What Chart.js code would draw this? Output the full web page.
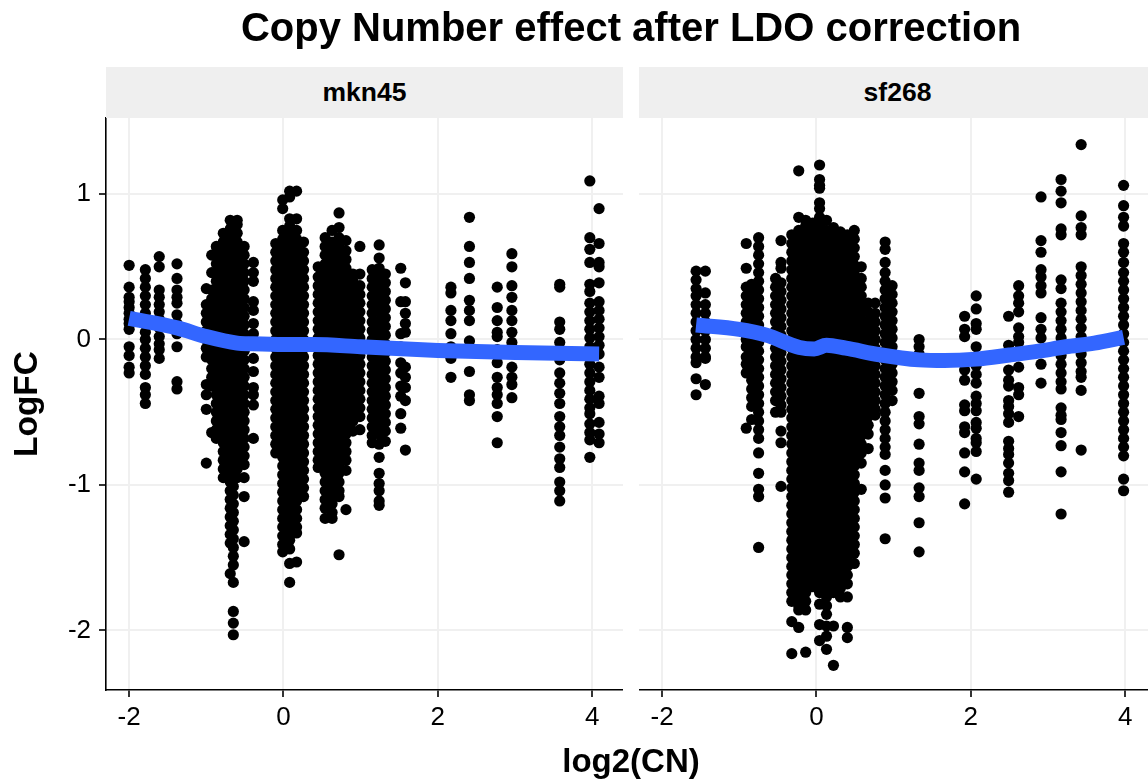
<!DOCTYPE html>
<html>
<head>
<meta charset="utf-8">
<script src="https://cdn.jsdelivr.net/npm/chart.js@4"></script>
<style>
  html, body { margin: 0; padding: 0; background: #fff; width: 1148px; height: 783px; overflow: hidden; }
  body { position: relative; font-family: "Liberation Sans", Arial, sans-serif; color: #000; }
  canvas { position: absolute; top: 0; }
  #plot1 { left: 0; }
  #plot2 { left: 639px; }
  .label { position: absolute; text-align: center; font-weight: bold; white-space: nowrap; }
  #title { left: 0; top: 3px; width: 1262px; font-size: 40px; line-height: 48px; }
  #xlabel { left: 0; top: 741px; width: 1262px; font-size: 33px; line-height: 40px; }
  .strip { top: 67px; height: 51px; line-height: 51px; font-size: 26.5px; background: #efefef; width: 517px; }
  #strip1 { left: 106px; }
  #strip2 { left: 639px; }
</style>
</head>
<body>
<canvas id="plot1" width="623" height="783"></canvas>
<canvas id="plot2" width="517" height="783"></canvas>
<div class="label strip" id="strip1">mkn45</div>
<div class="label strip" id="strip2">sf268</div>
<div class="label" id="title">Copy Number effect after LDO correction</div>
<div class="label" id="xlabel">log2(CN)</div>
<script>
const xTicks = [-2, 0, 2, 4];
const yTicks = [-2, -1, 0, 1];

// mkn45: x of each copy number column, then LogFC values of that column
const mknColX = [-2, -1.79, -1.61, -1.38, -1, -.93, -.87, -.78, -.69, -.65, -.6, -.51, -.39, -.1, -.01, .08, .17, .26, .45, .54, .63, .72, .81, .9, .99, 1.15, 1.24, 1.32, 1.52, 1.58, 2.17, 2.41, 2.77, 2.96, 3.58, 3.97, 4.09];
const mknColY = [
  [.51,.36,.29,.26,.22,.18,.14,.11,.07,-.05,-.11,-.19,-.23],
  [.48,.42,.36,.3,.24,.18,.12,.05,0,-.06,-.12,-.18,-.24,-.33,-.38,-.44],
  [.57,.5,.34,.29,.24,.19,.14,.08,.02,-.03,-.07,-.13],
  [.52,.42,.34,.29,.25,.17,.11,.04,-.05,-.29,-.34],
  [.35,.24,.18,.12,.06,0,-.06,-.12,-.31,-.38,-.48,-.85],
  [.58,.46,.34,.28,.22,.16,.1,.04,-.02,-.08,-.14,-.2,-.26,-.32,-.64],
  [.64,.58,.52,.46,.4,.34,.28,.22,.16,.1,.04,-.02,-.08,-.14,-.2,-.26,-.32,-.38,-.44,-.5,-.56,-.62,-.68],
  [.73,.67,.61,.55,.49,.43,.37,.31,.25,.19,.13,.07,.01,-.05,-.11,-.17,-.23,-.29,-.35,-.41,-.47,-.53,-.59,-.65,-.71,-.77,-.83,-.89,-.95],
  [.82,.76,.7,.64,.58,.52,.46,.4,.34,.28,.22,.16,.1,.04,-.02,-.08,-.14,-.2,-.26,-.32,-.38,-.44,-.5,-.56,-.62,-.68,-.74,-.8,-.86,-.92,-.98,-1.04,-1.1,-1.16,-1.22,-1.28,-1.34,-1.4,-1.61],
  [-.95,-1.01,-1.07,-1.13,-1.19,-1.25,-1.31,-1.37,-1.43,-1.49,-1.55,-1.67,-1.87,-1.95,-2.03],
  [.82,.79,.73,.67,.61,.55,.49,.43,.37,.31,.25,.19,.13,.07,.01,-.05,-.11,-.17,-.23,-.29,-.35,-.41,-.47,-.53,-.59,-.65,-.71,-.77,-.83,-.89,-.95],
  [.64,.58,.52,.46,.4,.34,.28,.22,.16,.1,.04,-.02,-.08,-.14,-.2,-.26,-.32,-.38,-.44,-.5,-.56,-.62,-.68,-.74,-.8,-.86,-.95,-1.08,-1.39],
  [.53,.46,.4,.26,.2,.11,.04,-.13,-.22,-.33,-.38,-.45,-.68],
  [.66,.6,.54,.48,.42,.36,.3,.24,.18,.12,.06,0,-.06,-.12,-.18,-.24,-.3,-.36,-.42,-.48,-.54,-.6,-.66,-.72,-.78],
  [.96,.9,.75,.69,.63,.57,.51,.45,.39,.33,.27,.21,.15,.09,.03,-.03,-.09,-.15,-.21,-.27,-.33,-.39,-.45,-.51,-.57,-.63,-.69,-.75,-.81,-.87,-.93,-.99,-1.05,-1.11,-1.17,-1.23,-1.29,-1.35,-1.41,-1.46],
  [1.02,.98,.83,.78,.72,.66,.6,.54,.48,.42,.36,.3,.24,.18,.12,.06,0,-.06,-.12,-.18,-.24,-.3,-.36,-.42,-.48,-.54,-.6,-.66,-.72,-.78,-.84,-.9,-.96,-1.02,-1.08,-1.14,-1.2,-1.26,-1.32,-1.38,-1.44,-1.54,-1.67],
  [1.02,.83,.75,.69,.63,.57,.51,.45,.39,.33,.27,.21,.15,.09,.03,-.03,-.09,-.15,-.21,-.27,-.33,-.39,-.45,-.51,-.57,-.63,-.69,-.75,-.81,-.87,-.93,-.99,-1.05,-1.11,-1.17,-1.23,-1.29,-1.33,-1.53],
  [.67,.6,.54,.48,.42,.36,.3,.24,.18,.12,.06,0,-.06,-.12,-.18,-.24,-.3,-.36,-.42,-.48,-.54,-.6,-.66,-.72,-.78,-.84,-.9,-.96,-1.02,-1.08],
  [.5,.43,.37,.31,.25,.19,.13,.07,.01,-.05,-.11,-.17,-.23,-.29,-.35,-.41,-.47,-.53,-.59,-.65,-.71,-.77,-.83,-.88],
  [.7,.64,.58,.52,.46,.4,.34,.28,.22,.16,.1,.04,-.02,-.08,-.14,-.2,-.26,-.32,-.38,-.44,-.5,-.56,-.62,-.68,-.74,-.8,-.86,-.92,-.98,-1.04,-1.1,-1.16,-1.23],
  [.75,.67,.61,.55,.49,.43,.37,.31,.25,.19,.13,.07,.01,-.05,-.11,-.17,-.23,-.29,-.35,-.41,-.47,-.53,-.59,-.65,-.71,-.77,-.83,-.89,-.95,-1.01,-1.07,-1.13,-1.19,-1.23],
  [.87,.77,.7,.64,.58,.52,.46,.4,.34,.28,.22,.16,.1,.04,-.02,-.08,-.14,-.2,-.26,-.32,-.38,-.44,-.5,-.56,-.62,-.68,-.74,-.8,-.86,-.92,-.98,-1.04,-1.08,-1.48],
  [.68,.61,.55,.49,.43,.37,.31,.25,.19,.13,.07,.01,-.05,-.11,-.17,-.23,-.29,-.35,-.41,-.47,-.53,-.59,-.65,-.71,-.77,-.83,-.9,-1.17],
  [.45,.4,.34,.28,.22,.16,.1,.04,-.02,-.08,-.14,-.2,-.26,-.32,-.38,-.44,-.5,-.56,-.63],
  [.64,.45,.37,.31,.25,.19,.13,.07,.01,-.05,-.11,-.17,-.23,-.29,-.35,-.41,-.47,-.53,-.62],
  [.48,.42,.36,.3,.24,.18,.12,.06,0,-.06,-.12,-.18,-.24,-.3,-.36,-.42,-.48,-.54,-.6,-.66,-.71],
  [.65,.56,.49,.43,.37,.31,.25,.19,.13,.07,.01,-.05,-.11,-.17,-.23,-.29,-.35,-.41,-.47,-.53,-.59,-.65,-.72,-.81,-.92,-.99,-1.04,-1.11,-1.14],
  [.45,.39,.33,.27,.21,.15,.09,.03,-.03,-.09,-.15,-.21,-.27,-.33,-.39,-.45,-.51,-.57,-.63,-.7],
  [.49,.26,.04,-.05,-.16,-.23,-.32,-.39,-.51,-.61],
  [.39,.26,.18,.11,.05,-.19,-.26,-.33,-.42,-.76],
  [.36,.32,.2,.13,.04,-.05,-.13,-.26],
  [.84,.64,.53,.42,.27,.2,.13,-.01,-.22,-.38,-.42],
  [.36,.22,.13,.05,.02,-.07,-.16,-.26,-.33,-.38,-.44,-.53,-.71],
  [.59,.5,.37,.29,.2,.13,.05,-.02,-.19,-.26,-.31,-.4],
  [.38,.36,.12,.07,-.02,-.14,-.23,-.3,-.37,-.44,-.53,-.6,-.66,-.74,-.82,-.88,-.98,-1.04,-1.11],
  [1.09,.7,.62,.53,.38,.33,.25,.19,.13,.07,.01,-.05,-.11,-.17,-.23,-.29,-.35,-.41,-.47,-.51,-.58,-.64,-.69,-.81],
  [.9,.66,.53,.5,.39,.26,.2,.14,.08,.02,-.04,-.1,-.19,-.26,-.39,-.44,-.57,-.65,-.71]
];
const mknLineX = [-2, -1.38, -1, -.6, -.4, 0, .4, 1, 2, 3, 4.09];
const mknLineY = [.145, .08, .02, -.025, -.03, -.035, -.035, -.05, -.075, -.09, -.1];

// sf268
const sfColX = [-1.56, -1.44, -.91, -.84, -.75, -.53, -.46, -.32, -.23, -.14, -.05, .04, .13, .22, .31, .4, .49, .58, .67, .76, .89, .98, 1.33, 1.92, 2.07, 2.49, 2.62, 2.91, 3.17, 3.43, 3.98];
const sfColY = [
  [.47,.41,.35,.3,.24,.18,.12,.06,0,-.06,-.12,-.16,-.27,-.38],
  [.47,.32,.24,.18,.12,.06,0,-.06,-.12,-.13,-.31],
  [.66,.49,.36,.3,.24,.18,.12,.06,0,-.05,-.12,-.17,-.23,-.61],
  [.38,.32,.26,.2,.14,.08,.02,-.04,-.1,-.16,-.22,-.28,-.34,-.4,-.46,-.55],
  [.7,.64,.58,.52,.46,.4,.34,.28,.22,.16,.1,.04,-.02,-.08,-.14,-.2,-.26,-.32,-.38,-.44,-.5,-.56,-.62,-.68,-.78,-.92,-1.03,-1.08,-1.43],
  [.42,.36,.3,.24,.18,.12,.06,0,-.06,-.12,-.18,-.24,-.3,-.36,-.42,-.5],
  [.68,.53,.49,.39,.33,.27,.21,.15,.09,.03,-.03,-.09,-.15,-.21,-.27,-.33,-.39,-.45,-.5,-.63,-.71,-1.01],
  [.72,.66,.6,.54,.48,.42,.36,.3,.24,.18,.12,.06,0,-.06,-.12,-.18,-.24,-.3,-.36,-.42,-.48,-.54,-.6,-.66,-.72,-.78,-.84,-.9,-.96,-1.02,-1.08,-1.14,-1.2,-1.26,-1.32,-1.38,-1.44,-1.5,-1.56,-1.62,-1.68,-1.74,-1.8,-1.94,-2.16],
  [1.16,.84,.75,.69,.63,.57,.51,.45,.39,.33,.27,.21,.15,.09,.03,-.03,-.09,-.15,-.21,-.27,-.33,-.39,-.45,-.51,-.57,-.63,-.69,-.75,-.81,-.87,-.93,-.99,-1.05,-1.11,-1.17,-1.23,-1.29,-1.35,-1.41,-1.47,-1.53,-1.59,-1.65,-1.71,-1.77,-1.83,-1.86,-1.98],
  [.82,.78,.72,.66,.6,.54,.48,.42,.36,.3,.24,.18,.12,.06,0,-.06,-.12,-.18,-.24,-.3,-.36,-.42,-.48,-.54,-.6,-.66,-.72,-.78,-.84,-.9,-.96,-1.02,-1.08,-1.14,-1.2,-1.26,-1.32,-1.38,-1.44,-1.5,-1.56,-1.62,-1.68,-1.74,-1.8,-1.86,-2.15],
  [.8,.75,.69,.63,.57,.51,.45,.39,.33,.27,.21,.15,.09,.03,-.03,-.09,-.15,-.21,-.27,-.33,-.39,-.45,-.51,-.57,-.63,-.69,-.75,-.81,-.87,-.93,-.99,-1.05,-1.11,-1.17,-1.23,-1.29,-1.35,-1.41,-1.47,-1.53,-1.59,-1.65,-1.7],
  [1.2,1.1,1.06,1.04,.94,.9,.84,.78,.72,.66,.6,.54,.48,.42,.36,.3,.24,.18,.12,.06,0,-.06,-.12,-.18,-.24,-.3,-.36,-.42,-.48,-.54,-.6,-.66,-.72,-.78,-.84,-.9,-.96,-1.02,-1.08,-1.14,-1.2,-1.26,-1.32,-1.38,-1.44,-1.5,-1.56,-1.62,-1.68,-1.74,-1.82,-1.96,-2.07],
  [.82,.75,.69,.63,.57,.51,.45,.39,.33,.27,.21,.15,.09,.03,-.03,-.09,-.15,-.21,-.27,-.33,-.39,-.45,-.51,-.57,-.63,-.69,-.75,-.81,-.87,-.93,-.99,-1.05,-1.11,-1.17,-1.23,-1.29,-1.35,-1.41,-1.47,-1.53,-1.59,-1.65,-1.71,-1.77,-1.83,-1.89,-1.97,-2.04,-2.13],
  [.77,.72,.66,.6,.54,.48,.42,.36,.3,.24,.18,.12,.06,0,-.06,-.12,-.18,-.24,-.3,-.36,-.42,-.48,-.54,-.6,-.66,-.72,-.78,-.84,-.9,-.96,-1.02,-1.08,-1.14,-1.2,-1.26,-1.32,-1.38,-1.44,-1.5,-1.56,-1.62,-1.68,-1.74,-1.97,-2.24],
  [.74,.69,.63,.57,.51,.45,.39,.33,.27,.21,.15,.09,.03,-.03,-.09,-.15,-.21,-.27,-.33,-.39,-.45,-.51,-.57,-.63,-.69,-.75,-.81,-.87,-.93,-.99,-1.05,-1.11,-1.17,-1.23,-1.29,-1.35,-1.41,-1.47,-1.53,-1.59,-1.65,-1.71,-1.77],
  [.72,.66,.6,.54,.48,.42,.36,.3,.24,.18,.12,.06,0,-.06,-.12,-.18,-.24,-.3,-.36,-.42,-.48,-.54,-.6,-.66,-.72,-.78,-.84,-.9,-.96,-1.02,-1.08,-1.14,-1.2,-1.26,-1.32,-1.38,-1.44,-1.5,-1.56,-1.62,-1.68,-1.77,-1.98,-2.05],
  [.75,.69,.63,.57,.51,.45,.39,.33,.27,.21,.15,.09,.03,-.03,-.09,-.15,-.21,-.27,-.33,-.39,-.45,-.51,-.57,-.63,-.69,-.75,-.81,-.87,-.93,-.99,-1.05,-1.11,-1.17,-1.23,-1.29,-1.35,-1.41,-1.47,-1.54],
  [.5,.42,.36,.3,.24,.18,.12,.06,0,-.06,-.12,-.18,-.24,-.3,-.36,-.42,-.48,-.54,-.6,-.66,-.72,-.78,-.85,-1.03],
  [.25,.19,.13,.07,.01,-.05,-.11,-.17,-.23,-.29,-.35,-.41,-.47,-.53,-.59,-.65,-.75],
  [.25,.18,.12,.06,0,-.06,-.12,-.18,-.24,-.3,-.36,-.42,-.48,-.52],
  [.67,.62,.53,.46,.4,.34,.28,.22,.16,.1,.04,-.02,-.08,-.14,-.2,-.26,-.32,-.38,-.44,-.5,-.56,-.62,-.68,-.74,-.79,-.9,-1,-1.09,-1.37],
  [.37,.31,.25,.19,.13,.07,.01,-.05,-.11,-.17,-.23,-.29,-.35,-.42],
  [0,-.05,-.1,-.15,-.37,-.53,-.58,-.72,-.85,-.9,-1.02,-1.08,-1.26,-1.46],
  [.16,.07,.02,-.21,-.28,-.45,-.49,-.6,-.64,-.78,-.91,-1.13],
  [.3,.21,.11,.07,-.05,-.12,-.18,-.24,-.3,-.39,-.44,-.49,-.57,-.61,-.68,-.71,-.77,-.96],
  [.16,-.04,-.21,-.28,-.32,-.42,-.46,-.51,-.57,-.7,-.75,-.79,-.85,-.92,-.97,-1.05],
  [.37,.3,.25,.19,.08,.02,-.02,-.19,-.33,-.38,-.53],
  [.98,.68,.6,.48,.43,.37,.32,.15,.07,.01,-.17,-.3],
  [1.1,1.02,.94,.76,.72,.41,.35,.25,.19,.13,.07,.01,-.05,-.11,-.17,-.23,-.29,-.34,-.47,-.52,-.55,-.64,-.73,-.91,-1.2],
  [1.34,.85,.77,.72,.5,.44,.38,.32,.26,.2,.14,.08,.02,-.04,-.1,-.16,-.22,-.26,-.35,-.76],
  [1.06,.92,.84,.78,.66,.6,.53,.46,.4,.34,.28,.22,.16,.1,.04,-.02,-.08,-.14,-.2,-.26,-.32,-.38,-.44,-.5,-.56,-.62,-.68,-.74,-.8,-.96,-1.04]
];
const sfLineX = [-1.56, -1, -.65, -.22, -.03, .13, .38, .82, 1.33, 1.66, 2.07, 2.5, 2.88, 3.23, 3.6, 3.98];
const sfLineY = [.1, .07, .03, -.055, -.065, -.04, -.06, -.105, -.14, -.145, -.135, -.107, -.08, -.05, -.025, .015];

const BLUE = '#3366ff';
const GRID = '#f0f0f0';

function columnPoints(colX, colY) {
  const pts = [];
  colX.forEach((x, i) => colY[i].forEach(y => pts.push({ x: x, y: y })));
  return pts;
}

function linePoints(xs, ys) {
  return xs.map((x, i) => ({ x: x, y: ys[i] }));
}

function makePanel(id, colX, colY, lineX, lineY, isLeft) {
  return new Chart(document.getElementById(id), {
    type: 'scatter',
    data: {
      datasets: [
        {
          data: linePoints(lineX, lineY),
          showLine: true,
          borderColor: BLUE,
          borderWidth: 15,
          borderCapStyle: 'butt',
          borderJoinStyle: 'round',
          cubicInterpolationMode: 'monotone',
          pointRadius: 0,
          order: 0
        },
        {
          data: columnPoints(colX, colY),
          backgroundColor: '#000',
          borderWidth: 0,
          pointRadius: 5.6,
          order: 1
        }
      ]
    },
    options: {
      responsive: false,
      animation: false,
      devicePixelRatio: 1,
      layout: { autoPadding: false, padding: { top: 118, left: 0, right: 0, bottom: 0 } },
      plugins: { legend: { display: false }, tooltip: { enabled: false }, title: { display: false } },
      scales: {
        x: {
          type: 'linear',
          min: -2.3,
          max: 4.4,
          afterFit: s => { s.height = 93; s.paddingLeft = 0; s.paddingRight = 0; },
          afterBuildTicks: s => { s.ticks = xTicks.map(v => ({ value: v })); },
          grid: { color: GRID, lineWidth: 2, drawTicks: true, tickColor: '#000', tickWidth: 1.6, tickLength: 7 },
          border: { display: true, color: '#000', width: 1.6 },
          ticks: { color: '#000', font: { size: 26, family: '"Liberation Sans"' }, padding: 5, maxRotation: 0, callback: v => String(v) }
        },
        y: {
          type: 'linear',
          min: -2.41,
          max: 1.523,
          afterFit: s => { s.width = isLeft ? 106 : 0; },
          afterBuildTicks: s => { s.ticks = yTicks.map(v => ({ value: v })); },
          grid: { color: GRID, lineWidth: 2, drawTicks: isLeft, tickColor: '#000', tickWidth: 1.6, tickLength: 7 },
          border: { display: isLeft, color: '#000', width: 1.6 },
          ticks: { display: isLeft, color: '#000', font: { size: 26, family: '"Liberation Sans"' }, padding: 8, callback: v => String(v) },
          title: {
            display: isLeft,
            text: 'LogFC',
            color: '#000',
            font: { size: 33.5, weight: 'bold', family: '"Liberation Sans"' },
            padding: { top: 8, bottom: 0 }
          }
        }
      }
    }
  });
}

makePanel('plot1', mknColX, mknColY, mknLineX, mknLineY, true);
makePanel('plot2', sfColX, sfColY, sfLineX, sfLineY, false);
</script>
</body>
</html>
